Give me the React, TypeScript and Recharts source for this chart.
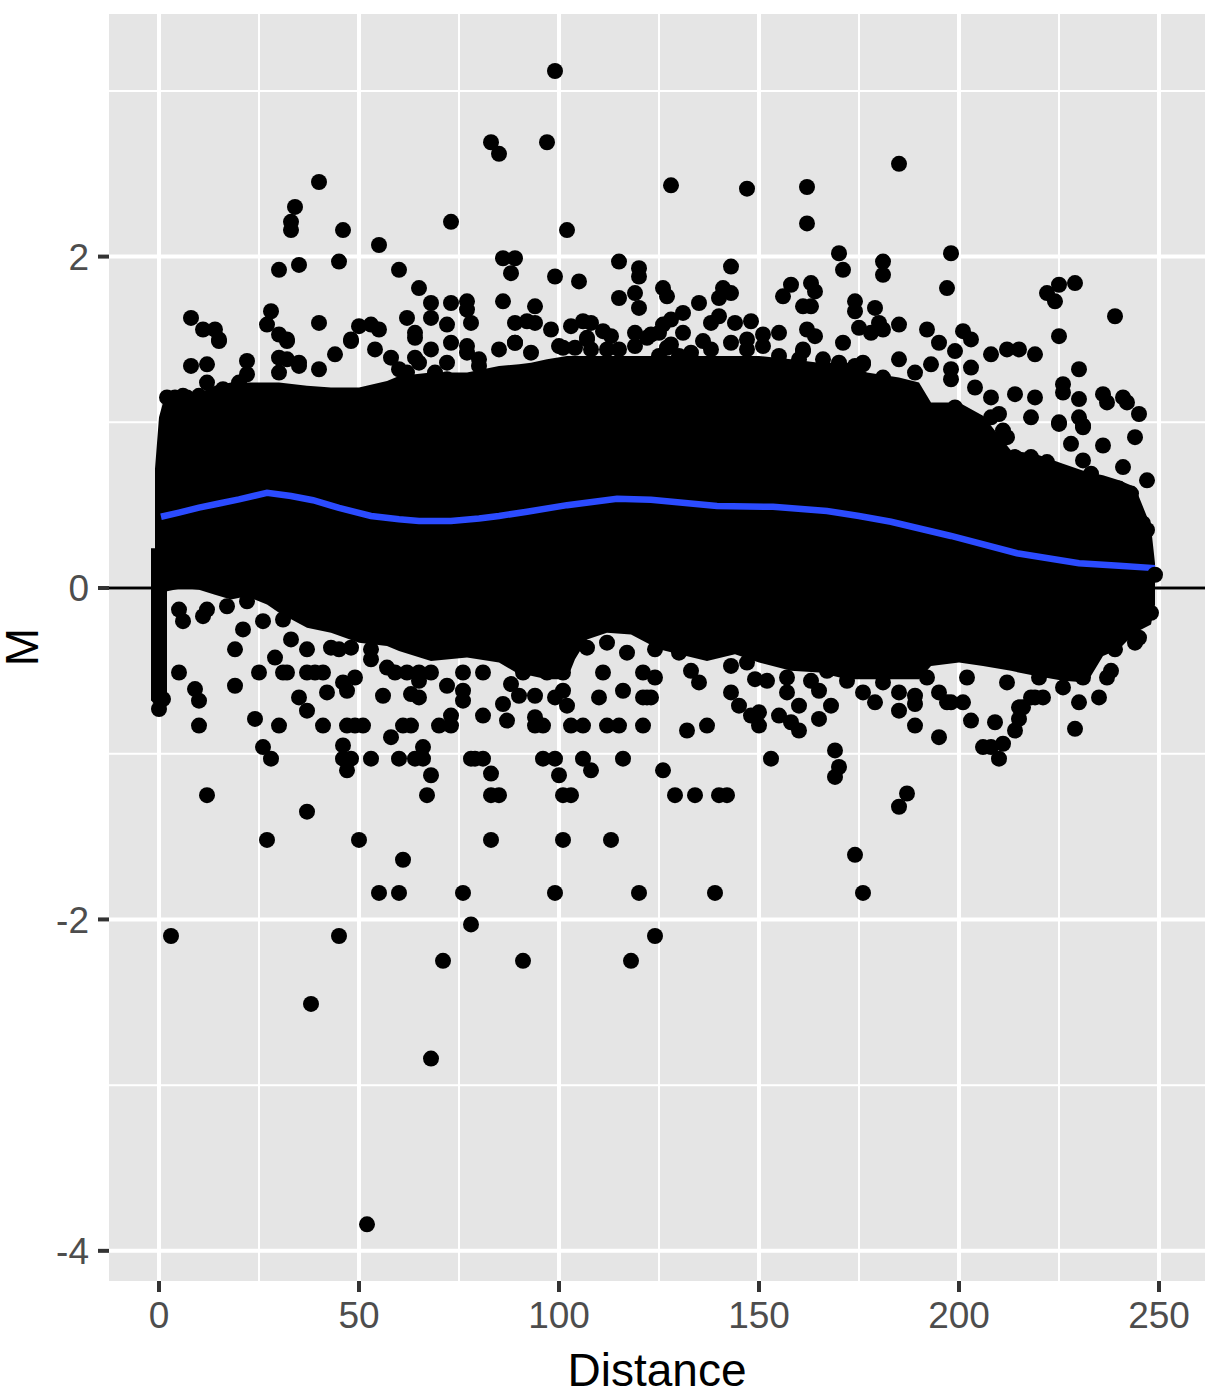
import { ComposedChart, Area, Line, Scatter, XAxis, YAxis, CartesianGrid, ReferenceLine } from 'recharts';

const X_TICKS = [0, 50, 100, 150, 200, 250];
const X_MINOR = [25, 75, 125, 175, 225];
const Y_TICKS = [-4, -2, 0, 2];
const Y_MINOR = [-3, -1, 1, 3];

const BAND_X = [-2, -1, -1, 0, 1, 2, 2, 6, 10, 14, 18, 22, 27, 30, 37, 43, 50, 57, 60, 68, 77, 85, 90, 93, 97, 102, 104, 107, 112, 118, 125, 130, 137, 144, 150, 158, 165, 172, 177, 185, 190, 193, 200, 206, 213, 219, 226, 232, 236, 240, 244, 248, 249];
const BAND_UPPER = [0.24, 0.24, 0.72, 1.03, 1.12, 1.13, 1.13, 1.15, 1.17, 1.22, 1.24, 1.24, 1.24, 1.24, 1.22, 1.21, 1.21, 1.25, 1.28, 1.3, 1.3, 1.34, 1.35, 1.36, 1.38, 1.4, 1.4, 1.4, 1.4, 1.4, 1.4, 1.4, 1.4, 1.4, 1.4, 1.38, 1.36, 1.36, 1.3, 1.27, 1.24, 1.12, 1.12, 1.04, 0.83, 0.81, 0.75, 0.7, 0.68, 0.65, 0.61, 0.37, 0.15];
const BAND_LOWER = [-0.68, -0.68, -0.68, -0.68, -0.68, -0.68, -0.02, 0, -0.01, -0.04, -0.07, -0.05, -0.1, -0.15, -0.24, -0.27, -0.33, -0.35, -0.38, -0.44, -0.42, -0.45, -0.52, -0.53, -0.55, -0.55, -0.43, -0.31, -0.27, -0.28, -0.37, -0.4, -0.44, -0.4, -0.45, -0.5, -0.51, -0.55, -0.55, -0.55, -0.55, -0.47, -0.45, -0.47, -0.5, -0.53, -0.56, -0.57, -0.41, -0.37, -0.27, -0.22, -0.1];

// smoother
const SMOOTH_X = [0.5, 5, 10, 15, 20, 27, 33, 38.5, 45, 53, 60, 65, 73, 80, 85, 92, 102, 114.5, 123, 139.5, 153.5, 167, 175, 183, 198, 214.5, 230, 240, 249];
const SMOOTH_Y = [0.43, 0.455, 0.485, 0.51, 0.535, 0.574, 0.555, 0.53, 0.483, 0.435, 0.415, 0.405, 0.405, 0.42, 0.435, 0.46, 0.5, 0.538, 0.532, 0.495, 0.49, 0.465, 0.435, 0.4, 0.314, 0.21, 0.15, 0.135, 0.12];

const STRIP_POINTS = [
  [0, -0.66], [0, -0.73], [1, -0.67],
];

const UPPER_POINTS = [
  [99, 3.12], [97, 2.69], [83, 2.69], [85, 2.62], [40, 2.45], [34, 2.3], [33, 2.21], [33, 2.16], [46, 2.16], [55, 2.07], [73, 2.21], [102, 2.16], [86, 1.99], [89, 1.99], [88, 1.9], [30, 1.92], [35, 1.95], [45, 1.97], [60, 1.92], [65, 1.81], [68, 1.72], [73, 1.72], [77, 1.73], [77, 1.68], [86, 1.73], [94, 1.7], [99, 1.88], [105, 1.85],
  [8, 1.63], [11, 1.56], [14, 1.56], [15, 1.5], [28, 1.67], [27, 1.59], [30, 1.53], [32, 1.5], [40, 1.6], [50, 1.58], [53, 1.59], [55, 1.56], [48, 1.5], [62, 1.63], [64, 1.54], [68, 1.63], [72, 1.59], [78, 1.6], [89, 1.6], [92, 1.61], [94, 1.6], [98, 1.56], [103, 1.58], [106, 1.61], [107, 1.51],
  [128, 2.43], [147, 2.41], [162, 2.42], [185, 2.56], [162, 2.2], [115, 1.97], [120, 1.93], [120, 1.88], [143, 1.94], [170, 2.02], [171, 1.92], [198, 2.02], [181, 1.97], [181, 1.89], [197, 1.81], [126, 1.81], [127, 1.76], [115, 1.75], [119, 1.78], [120, 1.69], [135, 1.72], [140, 1.75], [141, 1.81], [143, 1.78], [158, 1.83], [156, 1.76], [163, 1.84], [164, 1.79], [161, 1.7], [163, 1.7], [174, 1.73], [174, 1.67], [179, 1.69], [185, 1.59], [181, 1.56], [178, 1.54], [180, 1.6], [175, 1.57], [192, 1.56], [195, 1.48], [201, 1.55], [203, 1.5], [199, 1.43], [208, 1.41], [212, 1.44], [215, 1.44], [219, 1.41], [222, 1.78], [225, 1.83], [229, 1.84], [224, 1.73], [239, 1.64], [225, 1.52], [230, 1.32], [226, 1.23], [226, 1.18], [230, 1.14], [236, 1.17], [237, 1.12], [241, 1.15], [242, 1.12], [245, 1.05], [219, 1.15], [214, 1.17], [208, 1.15], [218, 1.03], [225, 1.0], [230, 1.03], [231, 0.98], [203, 1.33], [198, 1.32], [198, 1.26], [193, 1.35], [204, 1.21], [185, 1.38], [181, 1.27], [189, 1.3], [176, 1.36], [171, 1.48], [148, 1.61], [155, 1.54], [151, 1.53], [162, 1.56], [164, 1.52], [140, 1.64], [138, 1.6], [144, 1.6], [131, 1.54], [131, 1.66], [128, 1.62], [126, 1.59], [113, 1.52], [119, 1.54], [123, 1.53], [127, 1.45], [136, 1.49], [147, 1.5], [161, 1.43],
  [2, 1.15], [8, 1.34], [12, 1.35], [12, 1.24], [15, 1.49], [22, 1.37], [22, 1.29], [6, 1.16], [30, 1.39], [32, 1.49], [35, 1.36], [40, 1.32], [44, 1.41], [48, 1.49], [54, 1.44], [58, 1.39], [60, 1.32], [64, 1.39], [64, 1.51], [68, 1.44], [69, 1.3], [72, 1.26], [73, 1.48], [77, 1.46], [80, 1.38], [89, 1.48], [101, 1.45], [107, 1.5], [152, 1.32], [161, 1.44], [176, 1.35], [125, 1.4], [128, 1.47], [111, 1.55], [108, 1.6],
  [240, 0.6], [243, 0.57], [247, 0.65], [241, 0.73], [244, 0.91], [236, 0.86], [231, 0.77], [228, 0.87], [231, 0.97], [225, 0.99], [211, 0.95], [212, 0.91], [194, 1.06], [199, 1.09], [208, 1.03], [210, 1.05], [214, 0.79], [218, 0.79], [222, 0.76], [233, 0.69], [246, 0.39], [246, 0.24], [247, 0.35], [249, 0.08], [248, -0.15],
  [85, 1.44], [89, 1.48], [93, 1.42], [100, 1.46], [104, 1.45], [108, 1.44], [112, 1.44], [115, 1.44], [122, 1.51], [119, 1.46], [125, 1.54], [133, 1.42], [130, 1.4], [138, 1.44], [143, 1.48], [147, 1.44], [151, 1.46], [155, 1.4], [160, 1.38], [166, 1.38], [170, 1.36], [174, 1.34],
  [32, 1.38], [35, 1.34], [30, 1.3], [65, 1.36], [62, 1.3], [72, 1.36], [77, 1.42], [80, 1.34], [69, 1.27], [20, 1.24],
  [4, 1.15], [7, 1.15], [10, 1.16], [13, 1.16], [16, 1.2],
];

const LOWER_POINTS = [
  [238, -0.5], [237, -0.54], [235, -0.66], [230, -0.69], [219, -0.66], [216, -0.72], [215, -0.79], [209, -0.81], [203, -0.8], [229, -0.85], [202, -0.54], [212, -0.57], [197, -0.69], [201, -0.69], [195, -0.63], [189, -0.65], [189, -0.7], [185, -0.63], [185, -0.74], [179, -0.69], [176, -0.63], [189, -0.83],
  [113, -1.52], [120, -1.84], [139, -1.84], [176, -1.84], [174, -1.61], [129, -1.25], [134, -1.25], [140, -1.25], [142, -1.25], [187, -1.24], [185, -1.32], [116, -1.03], [126, -1.1], [153, -1.03], [169, -0.98], [170, -1.08], [169, -1.14], [112, -0.83], [115, -0.83], [121, -0.83], [132, -0.86], [137, -0.83], [150, -0.83], [160, -0.86], [165, -0.79], [168, -0.71], [195, -0.9], [206, -0.96], [208, -0.96], [211, -0.94], [210, -1.03], [214, -0.86], [215, -0.72], [218, -0.66], [221, -0.66],
  [116, -0.62], [117, -0.39], [130, -0.39], [143, -0.47], [147, -0.45], [143, -0.63], [145, -0.71], [150, -0.75], [148, -0.77], [121, -0.51], [124, -0.54], [122, -0.66], [121, -0.66], [123, -0.66], [111, -0.51], [110, -0.66], [135, -0.57], [133, -0.5], [157, -0.63], [165, -0.62], [160, -0.71], [155, -0.77], [158, -0.81], [149, -0.55], [152, -0.56], [198, -0.69],
  [5, -0.51], [9, -0.61], [10, -0.68], [10, -0.83], [19, -0.37], [19, -0.59], [21, -0.25], [25, -0.51], [31, -0.51], [32, -0.51], [37, -0.51], [39, -0.51], [41, -0.51], [35, -0.66], [37, -0.74], [42, -0.63], [46, -0.57], [49, -0.54], [47, -0.62], [56, -0.65], [63, -0.64], [65, -0.66], [72, -0.59], [76, -0.62], [76, -0.68],
  [24, -0.79], [30, -0.83], [41, -0.83], [47, -0.83], [49, -0.83], [51, -0.83], [61, -0.83], [63, -0.83], [70, -0.83], [73, -0.83], [73, -0.77], [81, -0.77], [87, -0.8], [86, -0.7], [94, -0.78], [94, -0.83], [96, -0.83], [103, -0.83], [106, -0.83], [88, -0.58], [90, -0.65], [94, -0.65], [99, -0.66], [101, -0.62], [102, -0.71],
  [26, -0.96], [28, -1.03], [46, -0.95], [46, -1.03], [48, -1.03], [47, -1.1], [53, -1.03], [58, -0.9], [60, -1.03], [64, -1.03], [66, -1.03], [66, -0.96], [68, -1.13], [67, -1.25], [12, -1.25], [37, -1.35], [27, -1.52], [50, -1.52], [83, -1.52], [101, -1.52], [61, -1.64], [78, -1.03], [79, -1.03], [81, -1.03], [83, -1.12], [83, -1.25], [85, -1.25], [96, -1.03], [99, -1.03], [106, -1.03], [108, -1.1], [100, -1.13], [101, -1.25], [103, -1.25],
  [5, -0.13], [6, -0.2], [11, -0.17], [12, -0.13], [17, -0.11], [22, -0.08], [26, -0.2], [31, -0.19], [33, -0.31], [29, -0.42], [37, -0.37], [43, -0.36], [45, -0.37], [48, -0.36], [53, -0.37], [53, -0.43], [57, -0.48], [62, -0.51], [59, -0.51], [65, -0.51], [68, -0.51], [76, -0.51], [81, -0.51], [65, -0.56], [101, -0.51], [91, -0.51], [97, -0.51], [107, -0.36],
  [112, -0.33], [124, -0.37], [157, -0.54], [163, -0.56], [167, -0.5], [172, -0.56], [181, -0.57], [192, -0.54], [220, -0.54], [226, -0.6], [231, -0.54], [239, -0.37], [244, -0.33], [245, -0.3],
];

const FAR_POINTS = [
  [3, -2.1], [45, -2.1], [124, -2.1], [78, -2.03], [71, -2.25], [91, -2.25], [118, -2.25], [38, -2.51], [68, -2.84], [52, -3.84], [55, -1.84], [60, -1.84], [76, -1.84], [99, -1.84],
];

const bandData = BAND_X.map((x, i) => ({ x, band: [BAND_LOWER[i], BAND_UPPER[i]] }));
const smoothData = SMOOTH_X.map((x, i) => ({ x, smooth: SMOOTH_Y[i] }));
const pointData = [...STRIP_POINTS, ...UPPER_POINTS, ...LOWER_POINTS, ...FAR_POINTS].map(([x, y]) => ({ x, y }));

const tickStyle = { fontSize: 37, fill: '#4D4D4D', fontFamily: 'Liberation Sans' };
const titleStyle = { fontSize: 46, fill: '#000', fontFamily: 'Liberation Sans' };

function Dot(props: any) {
  return <circle cx={props.cx} cy={props.cy} r={8} fill="#000" />;
}

export default function App() {
  return (
    <div style={{ position: 'absolute', left: 0, top: 0, width: 1218, height: 1395, background: '#fff' }}>
      <ComposedChart width={1218} height={1395} margin={{ top: 14, right: 13, bottom: 0, left: 0 }}>
        <CartesianGrid fill="#E5E5E5" stroke="#fff" strokeWidth={2} horizontalValues={Y_MINOR} verticalValues={X_MINOR} />
        <CartesianGrid stroke="#fff" strokeWidth={4} horizontalValues={Y_TICKS} verticalValues={X_TICKS} />
        <XAxis
          dataKey="x"
          type="number"
          domain={[-12.5, 261.5]}
          ticks={X_TICKS}
          height={114}
          axisLine={false}
          tickSize={11}
          tickMargin={10}
          tickLine={{ stroke: '#333', strokeWidth: 4 }}
          tick={tickStyle}
          label={{ value: 'Distance', position: 'insideBottom', offset: 9, style: titleStyle }}
        />
        <YAxis
          dataKey="y"
          type="number"
          domain={[-4.182, 3.464]}
          ticks={Y_TICKS}
          width={109}
          axisLine={false}
          tickSize={11}
          tickMargin={9}
          tickLine={{ stroke: '#333', strokeWidth: 4 }}
          tick={tickStyle}
        />
        <ReferenceLine y={0} stroke="#000" strokeWidth={3} />
        <Area data={bandData} dataKey="band" type="linear" stroke="none" fill="#000" fillOpacity={1} dot={false} activeDot={false} isAnimationActive={false} />
        <Scatter data={pointData} shape={Dot} isAnimationActive={false} />
        <Line data={smoothData} dataKey="smooth" type="linear" stroke="#2B4BFF" strokeWidth={6.5} dot={false} activeDot={false} isAnimationActive={false} />
        <text x={22} y={647} transform="rotate(-90 22 647)" textAnchor="middle" dominantBaseline="central" style={titleStyle}>M</text>
      </ComposedChart>
    </div>
  );
}
